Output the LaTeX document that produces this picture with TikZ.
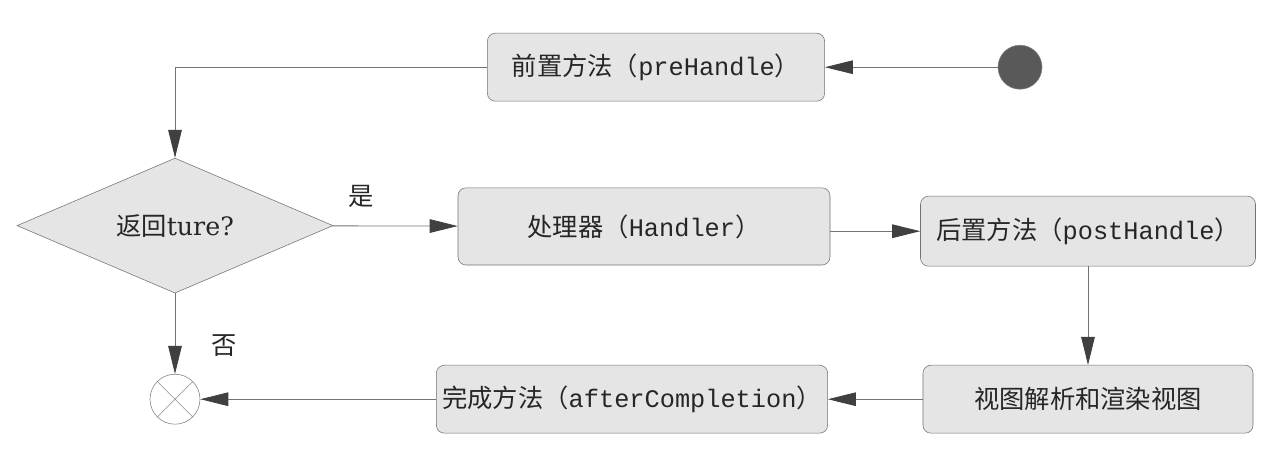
\documentclass[tikz,border=0pt]{standalone}
\usepackage{fontspec}
\setmainfont{Liberation Mono}
\newfontfamily\zhfont{Noto Sans CJK SC}
\newfontfamily\qfont{DejaVu Serif}
\newcommand{\zh}[1]{{\zhfont #1}}
\usetikzlibrary{arrows.meta,shapes.geometric}

\begin{document}
\begin{tikzpicture}[
            every node/.style={font=\fontsize{18}{21}\selectfont, text=black!85},
            act/.style={rectangle, draw=black!55, rounded corners=0.2cm, fill=black!10, minimum height=1.7cm, inner sep=0pt},
            cond/.style={diamond, draw=black!55, fill=black!10, aspect=2.34, minimum width=7.9cm, minimum height=3.375cm, inner sep=0pt},
            init/.style={circle, draw=black!50, fill=black!65, minimum size=1.1cm},
            stop/.style={circle, draw=black!50, fill=white, minimum size=1.25cm,
                path picture={\draw[black!45] (path picture bounding box.north west) -- (path picture bounding box.south east)
                                              (path picture bounding box.north east) -- (path picture bounding box.south west);}},
            flow/.style={-{Triangle[length=0.7cm, width=0.34cm, color=black!75]}, draw=black!55, line width=0.6pt}
        ]
        \useasboundingbox (0cm, 0cm) rectangle (31.925cm, -11.65cm);

        \node[act, minimum width=8.43cm] (pre) at (16.40cm, -1.68cm) {\zh{前置方法（}preHandle\zh{）}};
        \node[init] (start) at (25.50cm, -1.68cm) {};
        \node[cond] (check) at (4.375cm, -5.64cm) {\zh{返回}{\qfont ture?}};
        \node[act, minimum width=9.3cm, minimum height=1.93cm] (handler) at (16.10cm, -5.66cm) {\zh{处理器（}Handler\zh{）}};
        \node[act, minimum width=8.375cm, minimum height=1.75cm] (post) at (27.2cm, -5.78cm) {\zh{后置方法（}postHandle\zh{）}};
        \node[act, minimum width=8.25cm] (view) at (27.2cm, -9.98cm) {\zh{视图解析和渲染视图}};
        \node[act, minimum width=9.78cm] (done) at (15.80cm, -9.98cm) {\zh{完成方法（}afterCompletion\zh{）}};
        \node[stop] (final) at (4.375cm, -9.98cm) {};

        \draw[flow] (start) -- (pre);
        \draw[flow] (pre.west) -| (check.north);
        \draw[flow] (check) -- node[pos=0.23, above=0.33cm] {\zh{是}} (handler);
        \draw[flow] (check) -- node[pos=0.65, right=0.78cm] {\zh{否}} (final);
        \draw[flow] (handler.east |- post.west) -- (post.west);
        \draw[flow] (post) -- (view);
        \draw[flow] (view) -- (done);
        \draw[flow] (done) -- (final);

    \end{tikzpicture}
\end{document}
